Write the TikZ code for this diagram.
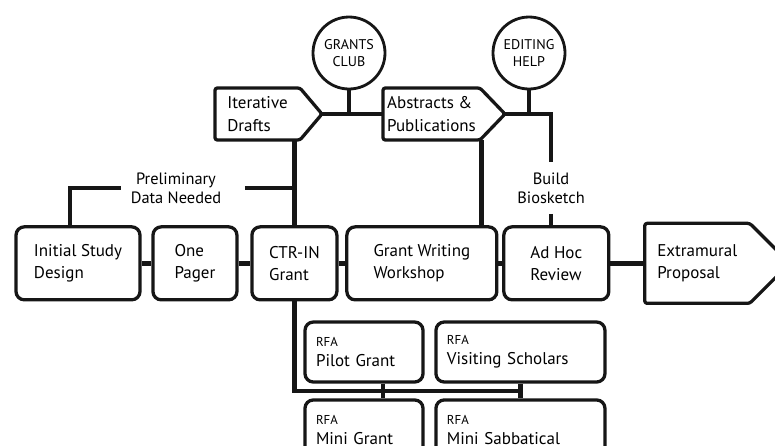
\documentclass[tikz,border=0pt]{standalone}
\usepackage{tikz}
\usepackage{xcolor}
\usepackage{fontspec}
\setmainfont{PT Sans}
\usetikzlibrary{shapes.geometric, positioning, calc}
\definecolor{sketchInk}{RGB}{22, 22, 22}
\newcommand{\rfatag}{{\fontsize{11}{12}\selectfont RFA}}

\begin{document}
\begin{tikzpicture}
                \tikzstyle{stage} = [rectangle, rounded corners=0.25cm, draw=sketchInk, line width=2.8pt, minimum height=2.19cm, align=left, font=\fontsize{14.5}{19}\selectfont]
                \tikzstyle{flag} = [rectangle, outer sep=0pt, minimum height=1.56cm, align=left, font=\fontsize{14.5}{19}\selectfont]
                \tikzstyle{flagline} = [draw=sketchInk, line width=2.8pt, rounded corners=2pt, line join=round]
                \tikzstyle{club} = [circle, draw=sketchInk, line width=2.4pt, minimum size=2.16cm, align=center, font=\fontsize{12}{14}\selectfont]
                \tikzstyle{rfa} = [rectangle, rounded corners=0.25cm, draw=sketchInk, line width=2.8pt, minimum height=1.8cm, inner xsep=0.33cm, align=left, font=\fontsize{14.5}{17}\selectfont]
                \tikzstyle{note} = [align=center, inner sep=0.3cm, font=\fontsize{14}{16.5}\selectfont]
                \tikzstyle{link} = [draw=sketchInk, line width=4pt]

                \useasboundingbox (0,0) rectangle (23.25,-13.35);

                \node[stage, minimum width=3.72cm] (design) at (2.34,-7.9) {Initial Study\\Design};
                \node[stage, minimum width=2.52cm, right=0.29cm of design] (pager) {One\\Pager};
                \node[stage, minimum width=2.55cm, right=0.35cm of pager] (ctr) {CTR-IN\\Grant};
                \node[stage, minimum width=4.5cm, right=0.2cm of ctr] (workshop) {Grant Writing\\Workshop};
                \node[stage, minimum width=3.15cm, right=0.11cm of workshop] (adhoc) {Ad Hoc\\Review};
                \node[flag, minimum width=3.15cm, minimum height=2.4cm, right=1.03cm of adhoc] (extramural) {Extramural\\Proposal};

                \node[flag, minimum width=2.55cm, anchor=west] (drafts) at (6.45,-3.42) {Iterative\\Drafts};
                \node[flag, minimum width=2.91cm, right=2.49cm of drafts] (abstracts) {Abstracts \&\\Publications};
                \node[club] (grants) at (10.47,-1.59) {GRANTS\\CLUB};
                \node[club] (editing) at (15.87,-1.59) {EDITING\\HELP};

                \node[note] (prelim) at (5.28,-5.64) {Preliminary\\Data Needed};
                \node[note] (biosketch) at (16.53,-5.64) {Build\\Biosketch};

                \node[rfa, text width=2.88cm] (pilot) at (10.92,-10.56) {\rfatag\\Pilot Grant};
                \node[rfa, text width=4.41cm, right=0.29cm of pilot] (visiting) {\rfatag\\Visiting Scholars};
                \node[rfa, text width=2.88cm, below=0.44cm of pilot] (minigrant) {\rfatag\\Mini Grant};
                \node[rfa, text width=4.41cm, below=0.44cm of visiting] (sabbatical) {\rfatag\\Mini Sabbatical};

                \coordinate (draftstip) at ([xshift=0.66cm]drafts.east);
                \coordinate (abstractstip) at ([xshift=0.75cm]abstracts.east);
                \coordinate (extramuraltip) at ([xshift=1.2cm]extramural.east);
                \draw[flagline] (drafts.north west) -- (drafts.north east) -- (draftstip) -- (drafts.south east) -- (drafts.south west) -- cycle;
                \draw[flagline] (abstracts.north west) -- (abstracts.north east) -- (abstractstip) -- (abstracts.south east) -- (abstracts.south west) -- cycle;
                \draw[flagline] (extramural.north west) -- (extramural.north east) -- (extramuraltip) -- (extramural.south east) -- (extramural.south west) -- cycle;

                \draw[link] (design) -- (pager);
                \draw[link] (pager) -- (ctr);
                \draw[link] (ctr) -- (workshop);
                \draw[link] (workshop) -- (adhoc);
                \draw[link] (adhoc) -- (extramural);

                \coordinate (designtop) at ([xshift=-0.24cm]design.north);
                \draw[link] (designtop) |- (prelim.west);
                \draw[link] ([xshift=0.4cm]prelim.east) -- (prelim.east -| ctr.north);
                \draw[link] (ctr.north) -- (ctr.north |- drafts.south);

                \draw[link] (draftstip) -- (abstracts.west);
                \draw[link] (grants) -- (grants |- draftstip);
                \draw[link] (abstractstip) -| (biosketch.north);
                \draw[link] (editing) -- (editing |- abstractstip);
                \draw[link] (biosketch.south) -- (biosketch.south |- adhoc.north);

                \coordinate (absdrop) at ([xshift=-0.51cm]workshop.north east);
                \draw[link] (absdrop) -- (absdrop |- abstracts.south);

                \coordinate (rfabus) at ($(visiting.south)!0.5!(sabbatical.north)$);
                \draw[link] (ctr.south) |- (rfabus);
                \draw[link] (visiting) -- (sabbatical);
                \draw[link] ([xshift=0.57cm]pilot.south) -- ([xshift=0.57cm]minigrant.north);
            \end{tikzpicture}
\end{document}
